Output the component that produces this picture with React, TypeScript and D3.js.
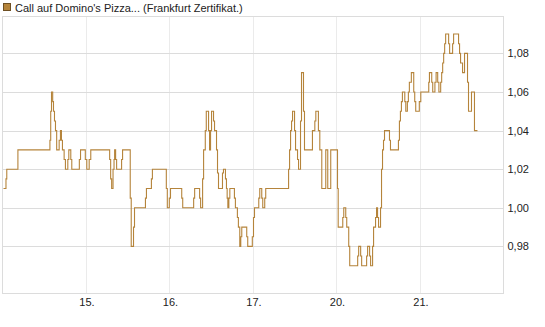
import React, { useRef, useEffect } from "react";
import * as d3 from "d3";

// trading days shown on the x axis (first one has no label)
const dayLabels = ["14.", "15.", "16.", "17.", "20.", "21."];
const yTicks = [0.98, 1.0, 1.02, 1.04, 1.06, 1.08];
const seriesName = "Call auf Domino's Pizza... (Frankfurt Zertifikat.)";

// [time, price] per trading day (08:00 - 22:00)
const day14: [string, number][] = [
  ["08:10", 1.01], ["08:35", 1.015], ["08:43", 1.02], ["10:35", 1.03], ["15:57", 1.035],
  ["16:05", 1.05], ["16:13", 1.06], ["16:25", 1.055], ["16:33", 1.05], ["16:43", 1.045],
  ["16:53", 1.04], ["17:05", 1.03], ["17:30", 1.035], ["17:43", 1.04], ["17:53", 1.035],
  ["18:03", 1.03], ["18:20", 1.025], ["18:33", 1.02], ["18:57", 1.025], ["19:07", 1.03],
  ["19:27", 1.025], ["19:37", 1.02], ["20:53", 1.025], ["21:05", 1.03], ["21:53", 1.025],
];
const day15: [string, number][] = [
  ["08:08", 1.02], ["08:32", 1.025], ["08:48", 1.03], ["11:58", 1.025], ["12:08", 1.015],
  ["12:18", 1.01], ["12:32", 1.02], ["12:42", 1.025], ["12:48", 1.03], ["12:58", 1.025],
  ["13:08", 1.02], ["13:58", 1.025], ["14:08", 1.03], ["15:25", 1.005], ["15:35", 0.98],
  ["15:58", 0.99], ["16:08", 1.0], ["17:58", 1.005], ["18:08", 1.01], ["18:58", 1.015],
  ["19:08", 1.02], ["21:28", 1.01], ["21:38", 1.0], ["21:58", 1.005],
];
const day16: [string, number][] = [
  ["08:10", 1.01], ["10:03", 1.005], ["10:13", 1.0], ["12:03", 1.005], ["12:13", 1.01],
  ["13:03", 1.005], ["13:13", 1.0], ["13:33", 1.015], ["13:43", 1.03], ["14:00", 1.04],
  ["14:10", 1.05], ["14:33", 1.04], ["14:43", 1.03], ["14:53", 1.04], ["15:03", 1.05],
  ["15:23", 1.045], ["15:33", 1.04], ["15:53", 1.03], ["16:03", 1.018], ["16:13", 1.01],
  ["16:53", 1.018], ["17:03", 1.02], ["17:23", 1.015], ["17:33", 1.01], ["17:40", 1.005],
  ["17:47", 1.0], ["17:57", 1.005], ["18:07", 1.01], ["18:53", 1.005], ["19:03", 1.0],
  ["19:23", 0.995], ["19:33", 0.99], ["19:47", 0.98], ["19:57", 0.985], ["20:07", 0.99],
  ["20:57", 0.985], ["21:07", 0.98], ["21:53", 0.985],
];
const day17: [string, number][] = [
  ["08:05", 0.995], ["08:15", 1.0], ["08:58", 1.005], ["09:08", 1.01], ["09:28", 1.005],
  ["09:38", 1.0], ["09:58", 1.005], ["10:08", 1.01], ["13:58", 1.02], ["14:08", 1.03],
  ["14:18", 1.04], ["14:28", 1.045], ["14:38", 1.05], ["14:58", 1.04], ["15:08", 1.03],
  ["15:28", 1.025], ["15:38", 1.02], ["15:58", 1.045], ["16:08", 1.07], ["16:28", 1.05],
  ["16:38", 1.03], ["17:58", 1.04], ["18:22", 1.045], ["18:32", 1.05], ["18:58", 1.04],
  ["19:12", 1.03], ["19:32", 1.01], ["20:12", 1.03], ["20:32", 1.01], ["21:02", 1.03],
];
const day20: [string, number][] = [
  ["08:10", 1.01], ["08:17", 0.99], ["09:03", 0.995], ["09:13", 1.0], ["09:33", 0.995],
  ["09:43", 0.99], ["10:03", 0.98], ["10:13", 0.97], ["11:33", 0.975], ["11:43", 0.98],
  ["12:03", 0.975], ["12:13", 0.97], ["13:03", 0.975], ["13:13", 0.98], ["13:33", 0.975],
  ["13:43", 0.97], ["14:03", 0.98], ["14:13", 0.99], ["14:33", 0.995], ["14:43", 1.0],
  ["14:53", 0.995], ["15:03", 0.99], ["15:23", 1.0], ["15:33", 1.02], ["15:43", 1.03],
  ["15:53", 1.035], ["16:03", 1.04], ["16:53", 1.035], ["17:03", 1.03], ["18:23", 1.035],
  ["18:33", 1.045], ["18:43", 1.05], ["18:53", 1.055], ["19:03", 1.06], ["19:27", 1.055],
  ["19:37", 1.05], ["19:53", 1.055], ["20:03", 1.06], ["20:13", 1.065], ["20:33", 1.07],
  ["20:57", 1.06], ["21:07", 1.055], ["21:17", 1.05], ["21:53", 1.055],
];
const day21: [string, number][] = [
  ["08:08", 1.06], ["09:28", 1.065], ["09:35", 1.07], ["09:58", 1.065], ["10:08", 1.06],
  ["10:30", 1.065], ["10:42", 1.07], ["10:58", 1.065], ["11:10", 1.06], ["11:28", 1.065],
  ["11:38", 1.07], ["11:48", 1.075], ["11:58", 1.08], ["12:08", 1.085], ["12:18", 1.09],
  ["12:48", 1.085], ["12:58", 1.08], ["13:28", 1.085], ["13:38", 1.09], ["14:28", 1.085],
  ["14:38", 1.08], ["14:48", 1.075], ["15:08", 1.07], ["15:28", 1.08], ["15:58", 1.065],
  ["16:08", 1.05], ["16:38", 1.06], ["17:08", 1.04], ["17:38", 1.04],
];

const DAY_MIN = 14 * 60;
const lineColor = "#b5843b";

const Chart: React.FC = () => {
  const svgRef = useRef<SVGSVGElement>(null);

  useEffect(() => {
    if (!svgRef.current) return;
    const svg = d3.select(svgRef.current);
    svg.selectAll("*").remove();

    const left = 2.5, right = 503.5, top = 16.5, bottom = 293.5;

    const points = [day14, day15, day16, day17, day20, day21].flatMap((arr, i) =>
      arr.map(([t, v]) => {
        const [h, m] = t.split(":").map(Number);
        return { t: i * DAY_MIN + (h - 8) * 60 + m, v };
      })
    );

    const x = d3.scaleLinear().domain([0, dayLabels.length * DAY_MIN]).range([left, right]);
    const y = d3.scaleLinear().domain([0.9556, 1.0991]).range([bottom, top]);
    const fmt = (v: number) => d3.format(".2f")(v).replace(".", ",");

    // vertical day gridlines
    const dayIdx = d3.range(1, dayLabels.length);
    svg.append("g")
      .selectAll("line")
      .data(dayIdx)
      .join("line")
      .attr("x1", (d) => Math.round(x(d * DAY_MIN)) + 0.5)
      .attr("x2", (d) => Math.round(x(d * DAY_MIN)) + 0.5)
      .attr("y1", top)
      .attr("y2", bottom)
      .attr("stroke", "#ebebeb");

    // horizontal gridlines
    svg.append("g")
      .selectAll("line")
      .data(yTicks)
      .join("line")
      .attr("x1", left)
      .attr("x2", right)
      .attr("y1", (d) => Math.round(y(d)) + 0.5)
      .attr("y2", (d) => Math.round(y(d)) + 0.5)
      .attr("stroke", "#dcdcdc");

    svg.append("rect")
      .attr("x", left)
      .attr("y", top)
      .attr("width", right - left)
      .attr("height", bottom - top)
      .attr("fill", "none")
      .attr("stroke", "#dcdcdc");

    const line = d3.line<{ t: number; v: number }>()
      .x((d) => x(d.t))
      .y((d) => y(d.v))
      .curve(d3.curveStepAfter);

    svg.append("path")
      .datum(points)
      .attr("fill", "none")
      .attr("stroke", lineColor)
      .attr("stroke-width", 1.1)
      .attr("d", line);

    const font = "'Liberation Sans', Arial, sans-serif";

    svg.append("g")
      .selectAll("text")
      .data(yTicks)
      .join("text")
      .attr("x", right + 4)
      .attr("y", (d) => y(d) + 4)
      .attr("font-family", font)
      .attr("font-size", 11)
      .attr("fill", "#222")
      .text((d) => fmt(d));

    svg.append("g")
      .selectAll("text")
      .data(dayIdx)
      .join("text")
      .attr("x", (d) => x(d * DAY_MIN) + 1)
      .attr("y", 306)
      .attr("text-anchor", "middle")
      .attr("font-family", font)
      .attr("font-size", 11)
      .attr("fill", "#222")
      .text((d) => dayLabels[d]);

    // legend
    svg.append("rect")
      .attr("x", 3.5)
      .attr("y", 3.5)
      .attr("width", 7)
      .attr("height", 7)
      .attr("fill", lineColor)
      .attr("stroke", "#6e5024");

    svg.append("text")
      .attr("x", 15)
      .attr("y", 11.5)
      .attr("font-family", font)
      .attr("font-size", 11)
      .attr("fill", "#222")
      .text(seriesName);
  }, []);

  return (
    <svg
      ref={svgRef}
      width={545}
      height={327}
      style={{ position: "absolute", left: 0, top: 0, background: "#fff" }}
    />
  );
};

export default function App() {
  return <Chart />;
}
